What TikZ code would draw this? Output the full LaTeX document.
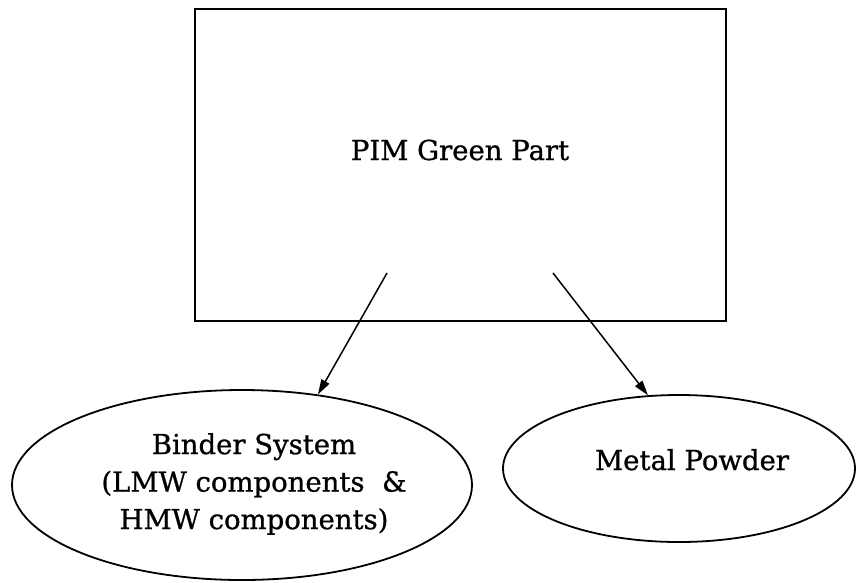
\documentclass[tikz,border=0pt]{standalone}
\usepackage{fontspec}
\setmainfont{DejaVu Serif}
\newfontfamily\lblfont[FakeBold=0.9]{DejaVu Serif}
\usetikzlibrary{shapes.geometric,arrows.meta}
\begin{document}
\begin{tikzpicture}[x=1pt,y=-1pt,
  box/.style={draw, line width=2pt, rectangle, inner sep=0pt},
  oval/.style={draw, line width=1.8pt, ellipse, inner sep=0pt},
  lbl/.style={inner sep=0pt, font=\lblfont\fontsize{27.5}{37.5}\selectfont},
  conn/.style={line width=1.5pt, -{Triangle[length=15pt,width=9pt]}}]
\useasboundingbox (0,0) rectangle (856,582);
\node[box, minimum width=531pt, minimum height=312pt] (pim) at (460.5,165) {};
\node[lbl, anchor=base] (pimtext) at (460,160) {PIM Green Part};
\node[oval, minimum width=460pt, minimum height=190pt] (binder) at (242,485) {};
\node[lbl, align=center] (bindertext) at (254,484) {Binder System\\(LMW components~~\&\\HMW components)};
\node[oval, minimum width=352pt, minimum height=147pt] (metal) at (679,468.5) {};
\node[lbl, anchor=base] (metaltext) at (692,470) {Metal Powder};
\coordinate (s1) at (387,273);
\coordinate (s2) at (553,273);
\draw[conn] (s1) -- (binder.50);
\draw[conn] (s2) -- (metal.113);
\end{tikzpicture}
\end{document}
